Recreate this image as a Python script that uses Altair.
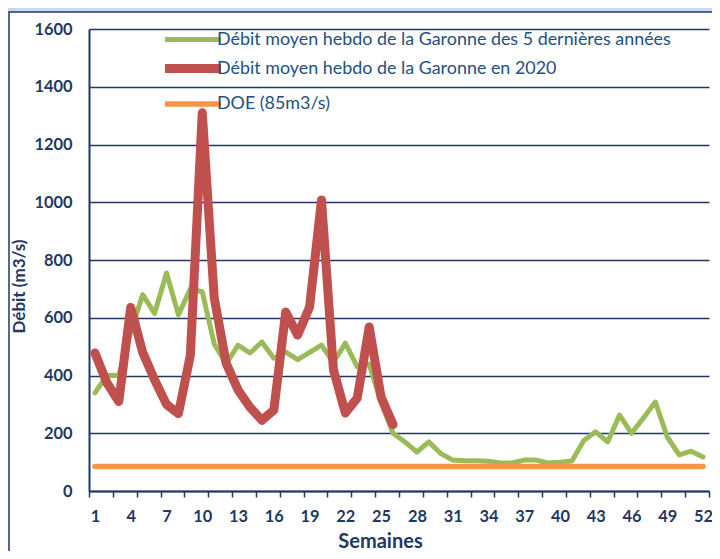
import altair as alt
import pandas as pd

weeks = list(range(1, 53))
moy5 = [340, 400, 400, 550, 680, 615, 755, 610, 700, 690,
        510, 440, 505, 478, 516, 460, 481, 455, 480, 505,
        445, 512, 430, 440, 305, 200, 170, 135, 170, 130,
        107, 105, 105, 103, 97, 97, 107, 107, 97, 100,
        104, 175, 205, 170, 263, 200, 253, 308, 187, 125,
        138, 118]
red2020 = [478, 375, 310, 636, 480, 385, 300, 268, 470, 1310,
           670, 443, 350, 290, 245, 280, 620, 540, 637, 1008,
           420, 270, 322, 568, 325, 230]
doe = [85] * 52

series_names = [
    "Débit moyen hebdo de la Garonne des 5 dernières années",
    "Débit moyen hebdo de la Garonne en 2020",
    "DOE (85m3/s)",
]
series_colors = ["#9bbb59", "#c0504d", "#f79646"]
series_widths = [5, 9, 5.5]

rows = []
for w, v in zip(weeks, moy5):
    rows.append({"Semaine": w, "Débit": v, "serie": series_names[0]})
for w, v in zip(weeks, red2020):
    rows.append({"Semaine": w, "Débit": v, "serie": series_names[1]})
for w, v in zip(weeks, doe):
    rows.append({"Semaine": w, "Débit": v, "serie": series_names[2]})
df = pd.DataFrame(rows)

label_weeks = list(range(1, 53, 3))
tick_edges = [w - 0.5 for w in range(1, 54, 2)]
x_values = sorted(label_weeks + tick_edges)

NAVY = "#1f3864"
FONT = "Lato"

x = alt.X(
    "Semaine:Q",
    scale=alt.Scale(domain=[0.5, 52.5], nice=False, zero=False),
    axis=alt.Axis(
        title="Semaines",
        values=x_values,
        labelExpr="datum.value % 1 == 0 ? datum.label : ''",
        tickOpacity={"condition": {"test": "datum.value % 1 != 0", "value": 1}, "value": 0},
        tickSize=6,
        tickWidth=1.5,
        tickColor=NAVY,
        domainColor=NAVY,
        domainWidth=2,
        grid=False,
        labelOverlap=False,
        labelPadding=11,
        labelFont=FONT,
        labelFontSize=16.4,
        labelFontWeight="bold",
        labelColor=NAVY,
        titleFont=FONT,
        titleFontSize=20,
        titleFontWeight="bold",
        titleColor=NAVY,
        titlePadding=7,
        titleX=291,
    ),
)
y = alt.Y(
    "Débit:Q",
    scale=alt.Scale(domain=[0, 1600], nice=False),
    axis=alt.Axis(
        title="Débit (m3/s)",
        values=list(range(0, 1601, 200)),
        format="d",
        ticks=False,
        tickSize=0,
        labelPadding=17,
        labelFont=FONT,
        labelFontSize=16.4,
        labelFontWeight="bold",
        labelColor=NAVY,
        domainColor=NAVY,
        domainWidth=2,
        gridColor=NAVY,
        gridWidth=1.5,
        titleFont=FONT,
        titleFontSize=17,
        titleFontWeight="bold",
        titleColor=NAVY,
        titlePadding=5,
        titleY=257,
    ),
)
color = alt.Color(
    "serie:N",
    scale=alt.Scale(domain=series_names, range=series_colors),
    legend=alt.Legend(
        title=None,
        orient="none",
        legendX=85.5,
        legendY=-6,
        symbolType="M-2,0H2",
        symbolSize=784,
        labelFont=FONT,
        labelFontSize=17.9,
        labelColor="#24507f",
        labelOffset=5.5,
        labelLimit=700,
        rowPadding=-2,
    ),
)
sw = alt.StrokeWidth(
    "serie:N",
    scale=alt.Scale(type="ordinal", domain=series_names, range=series_widths),
    legend=alt.Legend(title=None),
)

frame_df = pd.DataFrame({"k": [0]})
strip = alt.Chart(frame_df).mark_rect(color="#c6d9f0").encode(
    x=alt.value(-81), x2=alt.value(700), y=alt.value(-21), y2=alt.value(-17)
)
frame = alt.Chart(frame_df).mark_rect(filled=False, stroke=NAVY, strokeWidth=1.5).encode(
    x=alt.value(-80), x2=alt.value(800), y=alt.value(-17), y2=alt.value(700)
)

layers = []
for name in series_names:
    layers.append(
        alt.Chart(df)
        .transform_filter(alt.datum.serie == name)
        .mark_line(strokeCap="round", strokeJoin="round", clip=False)
        .encode(x=x, y=y, color=color, strokeWidth=sw)
    )

chart = alt.layer(strip, frame, *layers).properties(
    width=620,
    height=462,
    padding={"left": 81, "top": 21, "right": 3, "bottom": 60},
    autosize=alt.AutoSizeParams(type="none"),
    background="white",
).configure_view(stroke=None)

chart.save("out.html", embed_options={"renderer": "svg", "actions": False})
